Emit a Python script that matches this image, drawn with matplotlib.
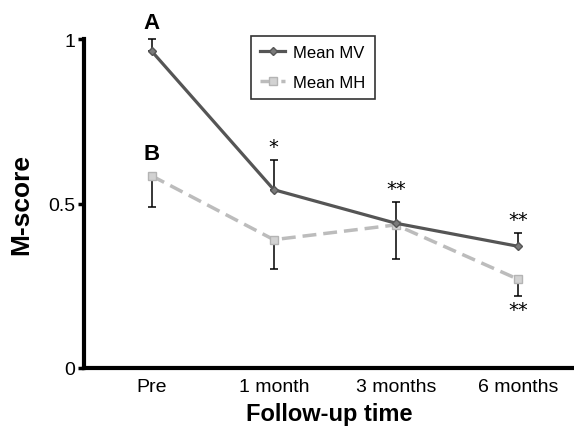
import matplotlib
matplotlib.use('Agg')
import matplotlib.pyplot as plt

plt.rcParams['font.family'] = ['Liberation Sans', 'DejaVu Sans']

# Data
times = ['Pre', '1 month', '3 months', '6 months']
mean_mv = [0.963, 0.542, 0.44, 0.37]
mv_err_up = [0.037, 0.09, 0.065, 0.04]
mean_mh = [0.584, 0.39, 0.435, 0.27]
mh_err_down = [0.095, 0.09, 0.105, 0.05]
mv_stars = ['', '*', '**', '**']
mh_stars = ['', '', '', '**']

x = list(range(len(times)))

fig = plt.figure(figsize=(5.74, 4.31), dpi=100)
ax = fig.add_axes([0.146, 0.144, 0.854, 0.763])

# one-sided error bars
ax.errorbar(x, mean_mv, yerr=[[0] * 4, mv_err_up], fmt='none', ecolor='black',
            elinewidth=1.1, capsize=2.8, capthick=1.1, zorder=2, clip_on=False)
ax.errorbar(x, mean_mh, yerr=[mh_err_down, [0] * 4], fmt='none', ecolor='black',
            elinewidth=1.1, capsize=2.8, capthick=1.1, zorder=2, clip_on=False)

ax.plot(x, mean_mv, color='#555555', lw=2.3, marker='D', ms=4.5, mfc='#7a7a7a',
        mec='#555555', label='Mean MV', zorder=4, clip_on=False)
ax.plot(x, mean_mh, color='#bcbcbc', lw=2.5, ls=(0, (4, 2)), marker='s', ms=5.5,
        mfc='#d2d2d2', mec='#b4b4b4', label='Mean MH', zorder=3, clip_on=False)

# significance marks
for i, s in enumerate(mv_stars):
    if s:
        ax.text(x[i], mean_mv[i] + mv_err_up[i] + 0.012, s, ha='center', va='bottom',
                fontsize=14, family='DejaVu Sans')
for i, s in enumerate(mh_stars):
    if s:
        ax.text(x[i], mean_mh[i] - mh_err_down[i] - 0.012, s, ha='center', va='top',
                fontsize=14, family='DejaVu Sans')

ax.text(0, 1.02, 'A', ha='center', va='bottom', fontsize=16, fontweight='bold')
ax.text(0, 0.62, 'B', ha='center', va='bottom', fontsize=16, fontweight='bold')

ax.set_xlim(-0.557, 3.46)
ax.set_ylim(0, 1)
ax.set_yticks([0, 0.5, 1])
ax.set_yticklabels(['0', '0.5', '1'])
ax.set_xticks(x)
ax.set_xticklabels(times)
ax.tick_params(axis='y', direction='out', length=4, width=2.5, pad=2, labelsize=14)
ax.tick_params(axis='x', length=0, pad=7, labelsize=14)

for side in ['top', 'right']:
    ax.spines[side].set_visible(False)
for side in ['left', 'bottom']:
    ax.spines[side].set_linewidth(3)

ax.set_ylabel('M-score', fontsize=19, fontweight='bold')
ax.yaxis.set_label_coords(-0.104, 0.5)
ax.set_xlabel('Follow-up time', fontsize=17, fontweight='bold')
ax.xaxis.set_label_coords(0.5, -0.104)

leg = ax.legend(loc='upper left', bbox_to_anchor=(0.341, 1.01), frameon=True,
                fancybox=False, edgecolor='black', fontsize=12, handlelength=1.5,
                handletextpad=0.5, borderpad=0.55, labelspacing=0.9,
                borderaxespad=0)
leg.get_frame().set_linewidth(1.2)

plt.savefig('out.png', dpi=100)
plt.close()
